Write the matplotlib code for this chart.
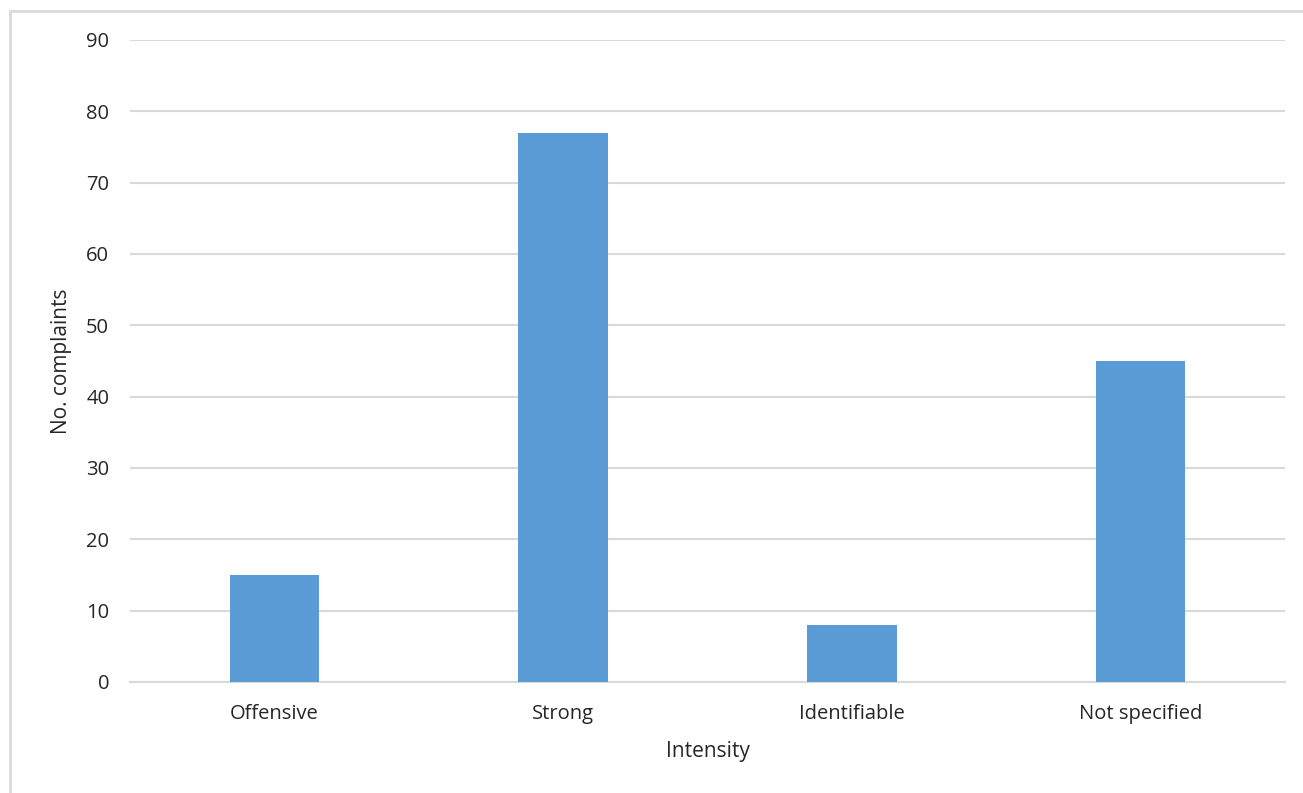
import matplotlib
matplotlib.use('Agg')
import matplotlib.pyplot as plt
from matplotlib.patches import Rectangle

# complaint counts per odour intensity
categories = ['Offensive', 'Strong', 'Identifiable', 'Not specified']
complaints = [15, 77, 8, 45]
y_ticks = [0, 10, 20, 30, 40, 50, 60, 70, 80, 90]

plt.rcParams['font.family'] = ['Open Sans', 'DejaVu Sans']

fig = plt.figure(figsize=(13.03, 7.93), dpi=100)
ax = fig.add_axes([0.0998, 0.14, 0.8864, 0.8096])

# chart-area frame, only the top and left edges fall inside the image
fig.patches.append(Rectangle((10 / 1303, -0.1), 1.2, 1 - 11 / 793 + 0.1,
                             transform=fig.transFigure, fill=False,
                             edgecolor='#d9d9d9', linewidth=2))

x = range(len(categories))
ax.bar(x, complaints, width=0.31, color='#5b9bd5', zorder=3)

ax.set_xlim(-0.5, len(categories) - 0.5)
ax.set_ylim(0, 90)
ax.set_yticks(y_ticks)
ax.set_xticks(list(x))
ax.set_xticklabels(categories)
ax.yaxis.grid(True, color='#d9d9d9', linewidth=1.5, zorder=0)
ax.set_axisbelow(True)

for side in ['top', 'right', 'left']:
    ax.spines[side].set_visible(False)
ax.spines['bottom'].set_color('#d9d9d9')
ax.spines['bottom'].set_linewidth(1.5)
ax.tick_params(axis='both', length=0, labelsize=14.5, colors='#262626')
ax.tick_params(axis='y', pad=15)
ax.tick_params(axis='x', pad=16)

ax.set_xlabel('Intensity', fontsize=15, color='#262626', labelpad=12)
ax.set_ylabel('No. complaints', fontsize=15, color='#262626', labelpad=10)

fig.savefig('out.png', dpi=100)
